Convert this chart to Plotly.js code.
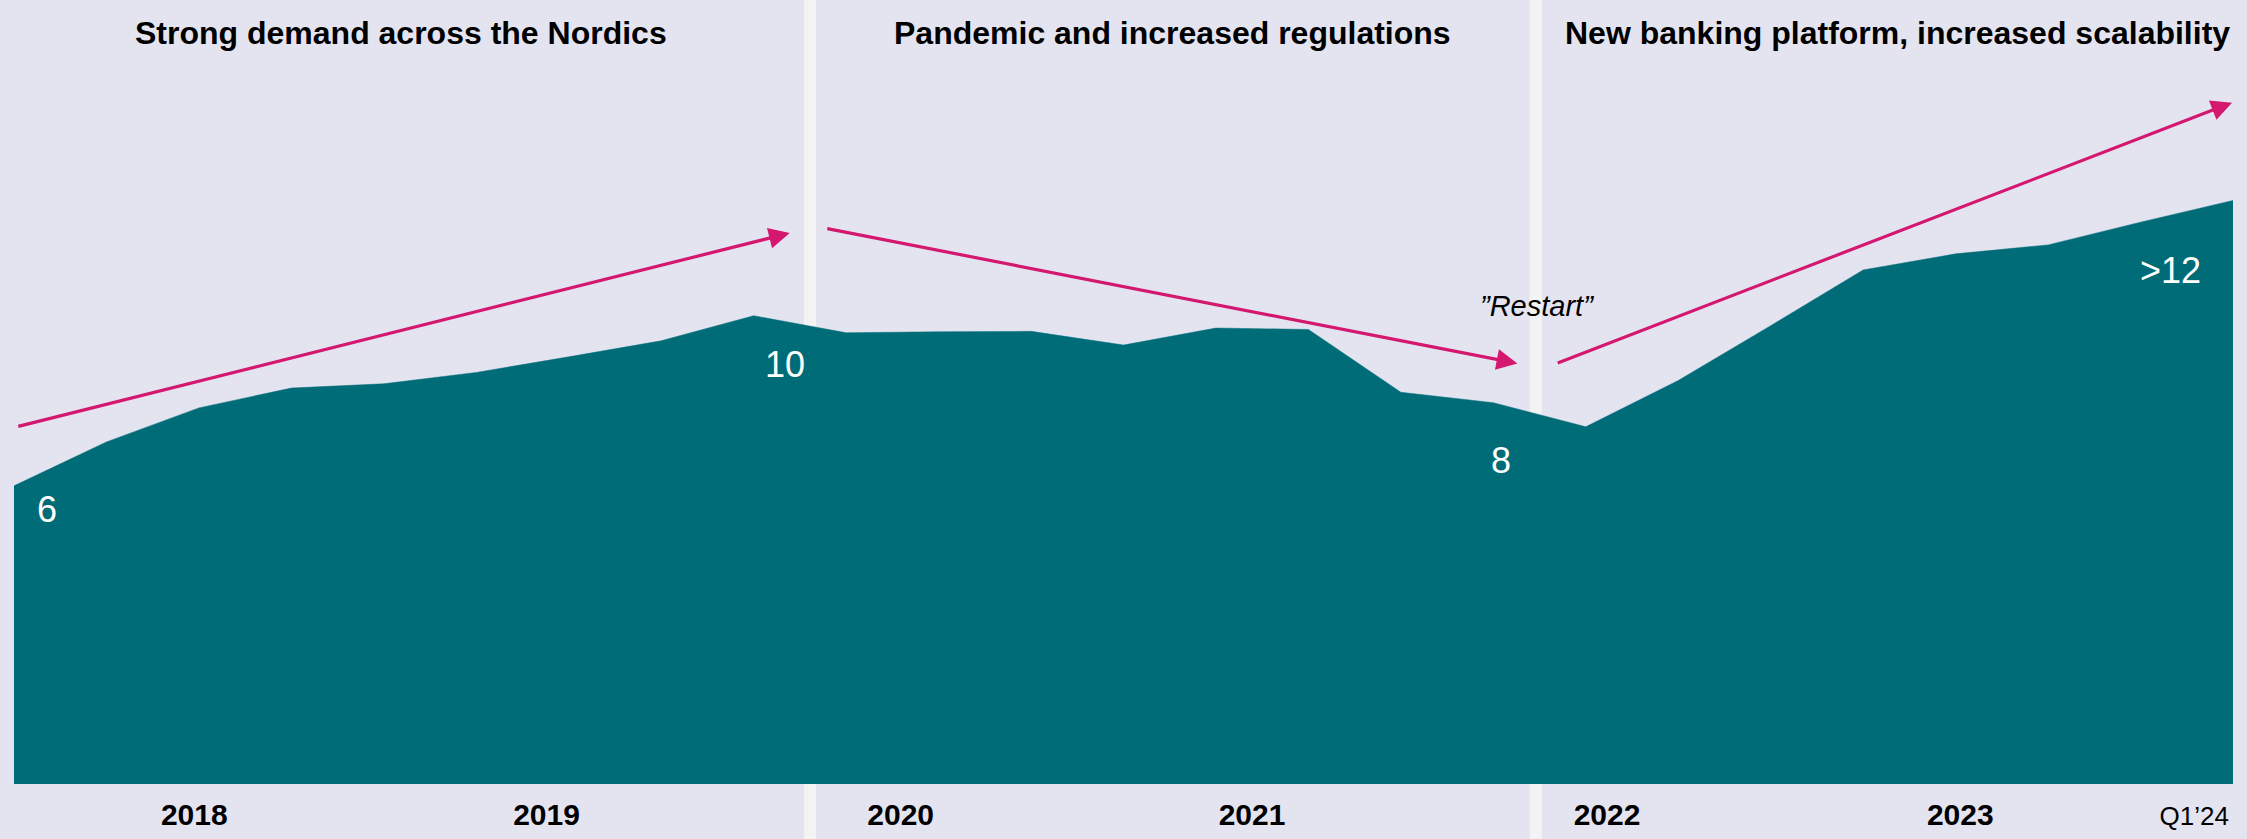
<!DOCTYPE html>
<html>
<head>
<meta charset="utf-8">
<script src="https://cdn.plot.ly/plotly-3.0.1.min.js"></script>
<style>
  html, body { margin: 0; padding: 0; background: #E4E4F1; }
  #chart { width: 2247px; height: 839px; }
</style>
</head>
<body>
<div id="chart"></div>
<script>
// ---- Data ----
const quarters = [
  "Q1'18","Q2'18","Q3'18","Q4'18",
  "Q1'19","Q2'19","Q3'19","Q4'19",
  "Q1'20","Q2'20","Q3'20","Q4'20",
  "Q1'21","Q2'21","Q3'21","Q4'21",
  "Q1'22","Q2'22","Q3'22","Q4'22",
  "Q1'23","Q2'23","Q3'23","Q4'23",
  "Q1'24"
];
const volume = [
  6.31, 7.24, 7.96, 8.38,
  8.47, 8.71, 9.04, 9.38,
  9.91, 9.55, 9.57, 9.58,
  9.29, 9.65, 9.62, 8.29,
  8.07, 7.56, 8.54, 9.70,
  10.88, 11.22, 11.41, 11.89,
  12.35
];
const yearTickPos = [1.95, 5.76, 9.59, 13.39, 17.23, 21.05, 23.58];
const yearTickText = ["2018", "2019", "2020", "2021", "2022", "2023", "Q1\u201924"];

const phaseTitles = [
  "Strong demand across the Nordics",
  "Pandemic and increased regulations",
  "New banking platform, increased scalability"
];
const phaseTitlePos = [4.19, 12.53, 20.37];   // x (quarter index) of title centres
const phaseBreaks = [8.61, 16.46];            // x of the separators between phases

const valueLabels = ["6", "10", "8", ">12"];
const valueLabelX = [0.36, 8.34, 16.08, 23.32];
const valueLabelY = [5.80, 8.87, 6.84, 10.86];

// trend arrows: [tailX, tailY, headX, headY]
const trendArrows = [
  [0.03, 7.56, 8.39, 11.66],
  [8.78, 11.76, 16.26, 8.90],
  [16.68, 8.90, 23.99, 14.42]
];
const restartLabel = "\u201DRestart\u201D";
const restartPos = [16.47, 10.12];

// ---- Styles ----
const BG = "#E4E4F1";
const TEAL = "#006C77";
const MAGENTA = "#D4176F";
const SEP = "#F3F3F3";
const FONT = "Liberation Sans, Arial, sans-serif";
const XMAX = 24;

const xIdx = quarters.map((_, i) => i);

const trace = {
  type: "scatter",
  mode: "lines",
  x: xIdx,
  y: volume,
  text: quarters,
  fill: "tozeroy",
  fillcolor: TEAL,
  line: { color: TEAL, width: 0.5 },
  hoverinfo: "skip"
};

const annotations = [];
phaseTitles.forEach((t, i) => {
  annotations.push({
    text: t, xref: "x", yref: "paper", x: phaseTitlePos[i], y: 0.994,
    xanchor: "center", yanchor: "middle", showarrow: false,
    font: { family: FONT, size: 32, color: "#000000", weight: "bold" }
  });
});
valueLabels.forEach((t, i) => {
  annotations.push({
    text: t, xref: "x", yref: "y", x: valueLabelX[i], y: valueLabelY[i],
    xanchor: "center", yanchor: "middle", showarrow: false,
    font: { family: FONT, size: 36, color: "#FFFFFF" }
  });
});
trendArrows.forEach(a => {
  annotations.push({
    text: "", xref: "x", yref: "y", axref: "x", ayref: "y",
    x: a[2], y: a[3], ax: a[0], ay: a[1],
    showarrow: true, arrowhead: 2, arrowsize: 1.3, arrowwidth: 3.2,
    arrowcolor: MAGENTA, standoff: 0, startstandoff: 0
  });
});
annotations.push({
  text: "<i>" + restartLabel + "</i>", xref: "x", yref: "y",
  x: restartPos[0], y: restartPos[1], xanchor: "center", yanchor: "middle",
  showarrow: false, font: { family: FONT, size: 29, color: "#000000" }
});

const shapes = phaseBreaks.map(b => ({
  type: "rect", xref: "paper", yref: "paper",
  x0: (b - 0.065) / XMAX, x1: (b + 0.065) / XMAX, y0: -0.08, y1: 1.05,
  fillcolor: SEP, line: { width: 0 }, layer: "below"
}));

const tickText = yearTickText.map((t, i) =>
  i < yearTickText.length - 1 ? "<b>" + t + "</b>" : '<span style="font-size:26px">' + t + "</span>");

const layout = {
  width: 2247, height: 839,
  margin: { l: 14, r: 14, t: 28, b: 55, pad: 0 },
  paper_bgcolor: BG, plot_bgcolor: BG,
  showlegend: false,
  font: { family: FONT, color: "#000000" },
  xaxis: {
    range: [0, XMAX], showgrid: false, zeroline: false, showline: false,
    tickmode: "array", tickvals: yearTickPos, ticktext: tickText,
    ticks: "outside", ticklen: 4, tickcolor: "rgba(0,0,0,0)",
    tickfont: { family: FONT, size: 30, color: "#000000" },
    fixedrange: true
  },
  yaxis: { range: [0, 16], visible: false, fixedrange: true },
  annotations: annotations,
  shapes: shapes
};

Plotly.newPlot("chart", [trace], layout, { displayModeBar: false, staticPlot: true });
</script>
</body>
</html>
